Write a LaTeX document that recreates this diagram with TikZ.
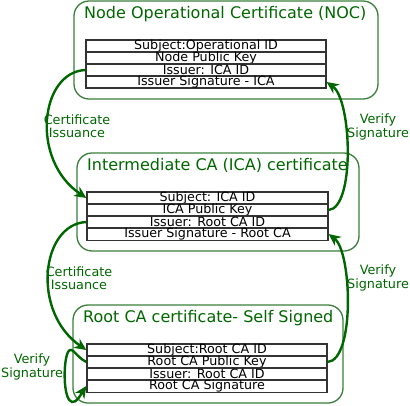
\documentclass[tikz,border=0pt]{standalone}
\usepackage{fontspec}
\setmainfont{DejaVu Sans}
\usetikzlibrary{arrows.meta}
\definecolor{tgreen}{HTML}{006600}
\definecolor{bgreen}{HTML}{3A803A}
\definecolor{rowline}{HTML}{333333}
\tikzset{
  grp/.style={draw=bgreen, line width=1.3pt, rounded corners=15pt, inner sep=0pt},
  ttl/.style={text=tgreen, font=\fontsize{16}{19}\selectfont, inner sep=0pt, anchor=west},
  row/.style={draw=rowline, line width=1.3pt, fill=white, minimum height=12pt, inner sep=0pt, font=\fontsize{12.7}{12}\selectfont},
  arr/.style={draw=tgreen, line width=2.4pt, -{Stealth[length=12pt,width=11pt]}},
  lbl/.style={text=tgreen, align=center, font=\fontsize{12.8}{13.5}\selectfont, inner sep=0pt}
}
\begin{document}
\begin{tikzpicture}[x=1pt,y=-1pt]
\useasboundingbox (0,0) rectangle (410,405);
% groups
\node[grp, minimum width=304pt, minimum height=98pt] (gN) at (226,50) {};
\node[grp, minimum width=282pt, minimum height=98pt] (gI) at (218,202) {};
\node[grp, minimum width=270pt, minimum height=98pt] (gR) at (208,354) {};
\node[ttl] (tN) at (84,14) {Node Operational Certificate (NOC)};
\node[ttl] (tI) at (87,165) {Intermediate CA (ICA) certificate};
\node[ttl] (tR) at (83,318) {Root CA certificate- Self Signed};
% NOC table
\node[row, minimum width=240pt] (n1) at (206,46) {Subject:Operational ID};
\node[row, minimum width=240pt] (n2) at (206,58) {Node Public Key};
\node[row, minimum width=240pt] (n3) at (206,70) {Issuer: ICA ID};
\node[row, minimum width=240pt] (n4) at (206,82) {Issuer Signature - ICA};
% ICA table
\node[row, minimum width=241pt] (i1) at (207.5,198) {Subject: ICA ID};
\node[row, minimum width=241pt] (i2) at (207.5,210) {ICA Public Key};
\node[row, minimum width=241pt] (i3) at (207.5,222) {Issuer: Root CA ID};
\node[row, minimum width=241pt] (i4) at (207.5,234) {Issuer Signature - Root CA};
% Root table
\node[row, minimum width=240pt] (r1) at (207,350) {Subject:Root CA ID};
\node[row, minimum width=240pt] (r2) at (207,362) {Root CA Public Key};
\node[row, minimum width=240pt] (r3) at (207,374) {Issuer: Root CA ID};
\node[row, minimum width=240pt] (r4) at (207,386) {Root CA Signature};
% connectors
\draw[arr] (n3.west) .. controls (40,72) and (30,160) .. (i1.west);
\draw[arr] (i3.west) .. controls (41,224) and (31,312) .. (r1.west);
\draw[arr] (i2.east) .. controls (355,208) and (352,100) .. (n4.east);
\draw[arr] (r2.east) .. controls (355,360) and (352,252) .. (i4.east);
\draw[arr] (r2.west) .. controls (76,357) and (72,345) .. (68,352) .. controls (63,362) and (63,400) .. (72,402) .. controls (77,403) and (81,394) .. (r4.west);
% labels
\node[lbl] (l1) at (77,126) {Certificate\\Issuance};
\node[lbl] (l2) at (79,278) {Certificate\\Issuance};
\node[lbl] (l3) at (378,127) {Verify\\Signature};
\node[lbl] (l4) at (378,278) {Verify\\Signature};
\node[lbl] (l5) at (32,367) {Verify\\Signature};
\end{tikzpicture}
\end{document}
